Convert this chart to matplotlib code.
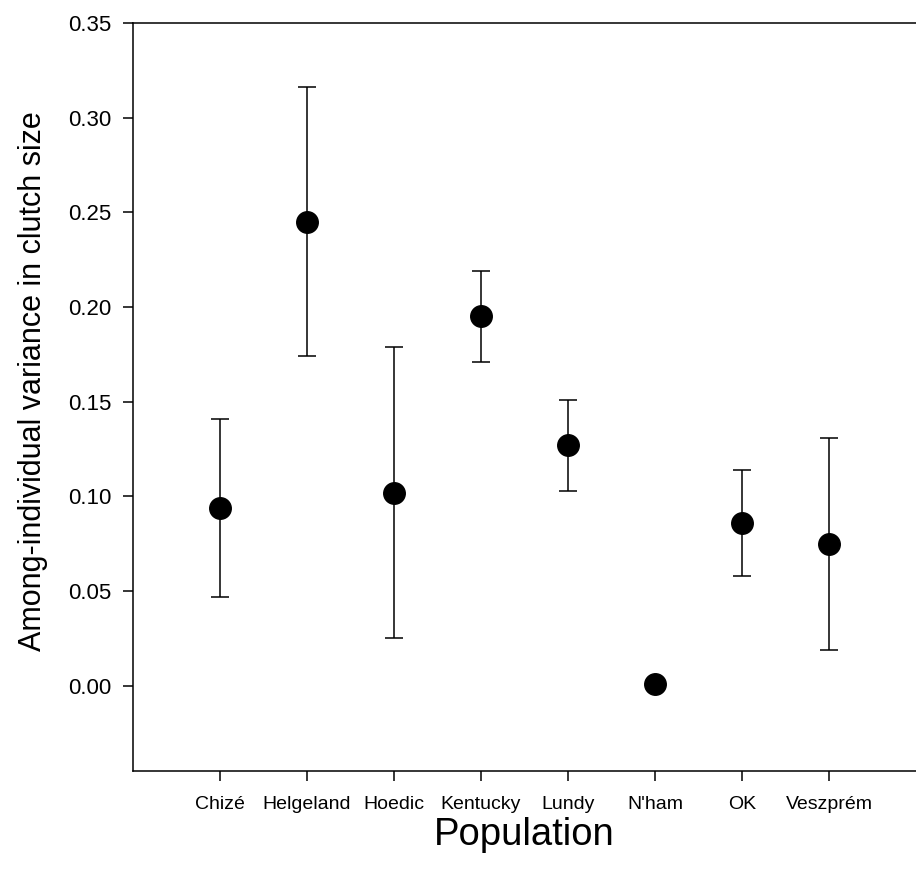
import matplotlib.pyplot as plt
import numpy as np

populacoes = ['Chizé', 'Helgeland', 'Hoedic', 'Kentucky', 'Lundy', "N'ham", 'OK', 'Veszprém']
variancia = [0.094, 0.245, 0.102, 0.195, 0.127, 0.001, 0.086, 0.075]
limite_inf = [0.047, 0.174, 0.025, 0.171, 0.103, np.nan, 0.058, 0.019]
limite_sup = [0.141, 0.316, 0.179, 0.219, 0.151, np.nan, 0.114, 0.131]

plt.rcParams.update({
    'font.family': 'Liberation Sans',
})

x = np.arange(1, len(populacoes) + 1)
v = np.array(variancia)
erro = [v - np.array(limite_inf), np.array(limite_sup) - v]
erro = [np.nan_to_num(e) for e in erro]

fig = plt.figure(figsize=(9.16, 8.73), dpi=100)
ax = fig.add_axes([0.145, 0.1168, 0.855, 0.857])

ax.errorbar(x, v, yerr=erro, fmt='o', color='black', markersize=15.5,
            elinewidth=1.1, capsize=6.5, capthick=1.1)

ax.set_xlim(0, 9)
ax.set_ylim(-0.045, 0.35)
ax.set_xticks(x)
ax.set_xticklabels(populacoes, fontsize=14)
ax.set_yticks(np.arange(0, 0.351, 0.05))
ax.set_yticklabels([f'{t:.2f}' for t in np.arange(0, 0.351, 0.05)], fontsize=16)
ax.tick_params(direction='out', length=7, width=1.1)
ax.tick_params(axis='y', pad=8.5)
ax.tick_params(axis='x', pad=11)

ax.spines['right'].set_visible(False)
for s in ['left', 'bottom', 'top']:
    ax.spines[s].set_linewidth(1.1)

ax.set_xlabel('Population', fontsize=27.5, labelpad=3)
ax.set_ylabel('Among-individual variance in clutch size', fontsize=22, labelpad=14)
ax.yaxis.label.set_y(0.521)

plt.savefig('out.png', dpi=100)
